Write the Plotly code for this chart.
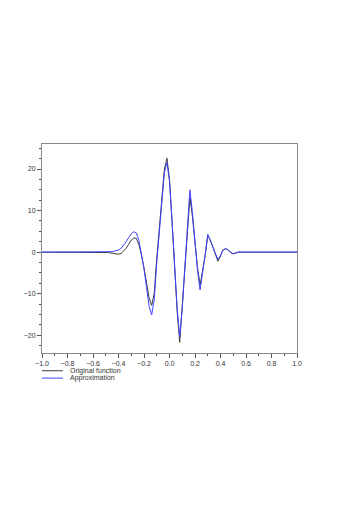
import plotly.graph_objects as go

# sample grid -1.0 .. 1.0 step 0.02
x_vals = [round(-1 + 0.02 * i, 2) for i in range(101)]

# nonzero part, x = -0.50 .. 0.54
original_mid = [0.0, -0.1, -0.2, -0.35, -0.5, -0.5, -0.3, 0.2, 0.9, 1.9,
                2.9, 3.4, 3.3, 1.8, -0.6, -3.8, -7.5, -11.0, -12.8, -10.0,
                -1.5, 6.0, 13.0, 20.0, 22.6, 17.5, 7.3, -3.5, -14.2, -21.7,
                -12.9, -3.5, 5.5, 13.2, 8.5, 2.0, -3.8, -7.9, -4.8, -0.8,
                4.0, 2.9, 1.2, -0.7, -2.2, -0.9, 0.5, 0.8, 0.5, -0.1,
                -0.4, -0.2, 0.0]
approx_mid = [0.0, 0.05, 0.1, 0.2, 0.3, 0.5, 0.9, 1.6, 2.5, 3.5,
              4.4, 4.9, 4.6, 2.8, -0.2, -4.0, -8.5, -13.0, -15.1, -11.5,
              -2.5, 5.5, 12.6, 19.2, 21.5, 17.0, 7.5, -3.2, -13.5, -20.3,
              -13.5, -3.8, 6.5, 15.0, 9.5, 2.2, -4.5, -9.1, -5.2, -0.6,
              4.3, 2.8, 1.0, -0.6, -1.8, -0.8, 0.5, 0.9, 0.5, -0.1,
              -0.4, -0.2, 0.0]

left_zeros = [0.0] * 25   # x = -1.00 .. -0.52
right_zeros = [0.0] * 23  # x = 0.56 .. 1.00
original = left_zeros + original_mid + right_zeros
approximation = left_zeros + approx_mid + right_zeros

legend_names = ["Original function", "Approximation"]
colors = ["#3a3a3a", "#4040ff"]

fig = go.Figure()
fig.add_trace(go.Scatter(x=x_vals, y=original, mode="lines", name=legend_names[0],
                         line=dict(color=colors[0], width=1), showlegend=False))
fig.add_trace(go.Scatter(x=x_vals, y=approximation, mode="lines", name=legend_names[1],
                         line=dict(color=colors[1], width=1), showlegend=False))

axis_common = dict(showline=True, linecolor="#8a8a8a", linewidth=1, mirror=True,
                   showgrid=False, zeroline=False, ticks="outside", ticklen=4,
                   tickcolor="#555555", tickwidth=1,
                   tickfont=dict(family="Liberation Sans, Arial", size=7, color="#333333"))

fig.update_xaxes(range=[-1, 1], dtick=0.2, tickformat=".1f",
                 minor=dict(dtick=0.1, ticks="outside", ticklen=2, tickcolor="#555555"),
                 **axis_common)
fig.update_yaxes(range=[-24.27, 26.02], dtick=10,
                 minor=dict(dtick=2.5, ticks="outside", ticklen=2, tickcolor="#555555"),
                 **axis_common)

# small legend under the plot
for i, name in enumerate(legend_names):
    yy = -0.085 - 0.035 * i
    fig.add_shape(type="line", xref="paper", yref="paper", x0=0, x1=0.082, y0=yy, y1=yy,
                  line=dict(color=colors[i], width=1))
    fig.add_annotation(xref="paper", yref="paper", x=0.1, y=yy, text=name,
                       showarrow=False, xanchor="left", yanchor="middle",
                       font=dict(family="Liberation Sans, Arial", size=7, color="#333333"))

# page body adds 8px offset, so margins compensate
fig.update_layout(width=346, height=519, plot_bgcolor="white", paper_bgcolor="white",
                  margin=dict(l=34, r=57, t=136, b=174), showlegend=False)

fig.write_html("out.html")
